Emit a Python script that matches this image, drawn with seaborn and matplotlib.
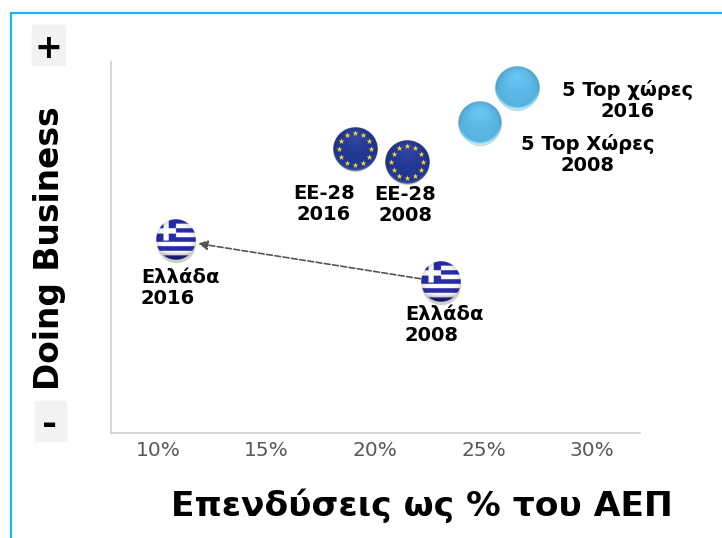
import numpy as np
import pandas as pd
import seaborn as sns
import matplotlib.pyplot as plt
from matplotlib.patches import Rectangle, FancyArrowPatch
from matplotlib.transforms import ScaledTranslation

names = ['Ελλάδα 2016', 'Ελλάδα 2008', 'ΕΕ-28 2016', 'ΕΕ-28 2008', '5 Top 2016', '5 Top 2008']
kinds = ['gr', 'gr', 'eu', 'eu', 'top', 'top']
invest = [10.83, 23.04, 19.08, 21.48, 26.54, 24.84]
doing_business = [52.0, 40.7, 76.5, 73.0, 93.0, 83.6]
radius_px = [20, 20, 22, 22, 22, 22]
labels = ['Ελλάδα\n2016', 'Ελλάδα\n2008', 'ΕΕ-28\n2016', 'ΕΕ-28\n2008', '5 Top χώρες\n2016', '5 Top Χώρες\n2008']
label_pos = [(141, 268), (405, 305), (324, 184), (405, 185), (628, 80), (588, 134)]
label_ha = ['left', 'left', 'center', 'center', 'center', 'center']
xticks = [10, 15, 20, 25, 30]

W, H = 722, 538


def sphere(kind, n=160):
    yy, xx = np.mgrid[-1:1:n*1j, -1:1:n*1j]
    rr = np.sqrt(xx**2 + yy**2)
    rgb = np.ones((n, n, 3))
    if kind == 'gr':
        blue = np.array([0.16, 0.17, 0.66])
        stripe = ((yy + 1) / 2 * 9).astype(int) % 2 == 0
        rgb[stripe] = blue
        canton = (xx < 0.0) & (yy < 0.05)
        rgb[canton] = blue
        cross = canton & ((np.abs(yy + 0.42) < 0.13) | (np.abs(xx + 0.5) < 0.13))
        rgb[cross] = 1
        # bottom of the ball goes dark
        rgb = rgb * (1 - 0.45 * np.clip((yy - 0.6) / 0.4, 0, 1))[..., None]
    elif kind == 'eu':
        rgb[:] = [0.13, 0.22, 0.58]
    else:
        rgb[:] = [0.36, 0.72, 0.90]
    # darker edge and a soft highlight so it reads as a ball
    shade = 1 - 0.15 * np.clip(rr, 0, 1)**6
    rgb = rgb * shade[..., None]
    if kind != 'gr':
        glow = np.clip(1 - np.sqrt(xx**2 + (yy + 0.55)**2) / 0.8, 0, 1) * 0.06
        rim = np.clip((rr - 0.84) / 0.14, 0, 1) * np.clip(yy, 0, 1) * (0.4 if kind == 'top' else 0.15)
        rgb = rgb + glow[..., None] + rim[..., None]
    alpha = np.clip((1 - rr) * n / 2, 0, 1)
    return np.dstack([np.clip(rgb, 0, 1), alpha])


sns.set_style('white')
fig = plt.figure(figsize=(W / 100, H / 100), dpi=100)
ax = fig.add_axes([111 / W, 1 - 433 / H, (640 - 111) / W, (433 - 62) / H])

df = pd.DataFrame({'invest': invest, 'db': doing_business, 'name': names})
# soft shadow under each ball
sns.scatterplot(data=df, x='invest', y='db', s=800, color='#888888', alpha=0.4, linewidth=0, ax=ax, legend=False, zorder=1)
ax.collections[0].set_offset_transform(ax.transData + ScaledTranslation(0, -3 / 100, fig.dpi_scale_trans))

ax.set_xlim(7.83, 32.2)
ax.set_ylim(0, 100)
ax.set_xticks(xticks)
ax.set_xticklabels([f'{t}%' for t in xticks], fontsize=14.5, color='#595959')
ax.set_yticks([])
ax.set_xlabel('')
ax.set_ylabel('')
ax.tick_params(axis='x', length=0, pad=6)
sns.despine(ax=ax)
for s in ['left', 'bottom']:
    ax.spines[s].set_color('#d0d0d0')
    ax.spines[s].set_linewidth(1.2)

dx = (ax.get_xlim()[1] - ax.get_xlim()[0]) / (640 - 111)
dy = 100 / (433 - 62)
for x, y, r, k in zip(invest, doing_business, radius_px, kinds):
    ax.imshow(sphere(k), extent=[x - r * dx, x + r * dx, y - r * dy, y + r * dy],
              aspect='auto', zorder=3, interpolation='antialiased')
    if k == 'eu':
        ang = np.arange(12) * np.pi / 6
        ax.scatter(x + 0.72 * r * dx * np.sin(ang), y + 0.72 * r * dy * np.cos(ang),
                   marker='*', s=20, color='#f4d23c', linewidth=0, zorder=4)
ax.set_xlim(7.83, 32.2)
ax.set_ylim(0, 100)

# arrow from Greece 2008 to Greece 2016
ax.add_patch(FancyArrowPatch((invest[1], doing_business[1]), (invest[0], doing_business[0]),
                             shrinkA=15, shrinkB=16, arrowstyle='-|>', mutation_scale=14,
                             linestyle=(0, (3.5, 1.5)), color='#555555', linewidth=1.2, zorder=2))

for txt, (px, py), ha in zip(labels, label_pos, label_ha):
    fig.text(px / W, 1 - py / H, txt, fontsize=14, fontweight='bold', ha=ha, va='top',
             linespacing=1.12, color='black')

# blue frame, open on the right
fig.add_artist(plt.Line2D([11 / W, 11 / W], [0, 1 - 13 / H], color='#1fb4ef', lw=1.6))
fig.add_artist(plt.Line2D([11 / W, 1], [1 - 13 / H, 1 - 13 / H], color='#1fb4ef', lw=1.6))

# + and - boxes
fig.add_artist(Rectangle((32 / W, 1 - 65 / H), 33 / W, 40 / H, color='#f2f2f2', transform=fig.transFigure))
fig.add_artist(Rectangle((35 / W, 1 - 441 / H), 31 / W, 40 / H, color='#f2f2f2', transform=fig.transFigure))
fig.text(48 / W, 1 - 49 / H, '+', fontsize=24, fontweight='bold', ha='center', va='center', color='black')
fig.text(50 / W, 1 - 425 / H, '-', fontsize=26, fontweight='bold', ha='center', va='center', color='black')

fig.text(49 / W, 1 - 248 / H, 'Doing Business', fontsize=23.7, fontweight='bold', rotation=90,
         ha='center', va='center', color='black')
fig.text(422 / W, 1 - 506 / H, 'Επενδύσεις ως % του ΑΕΠ', fontsize=24.8, fontweight='bold',
         ha='center', va='center', color='black')

fig.savefig('out.png', dpi=100)
